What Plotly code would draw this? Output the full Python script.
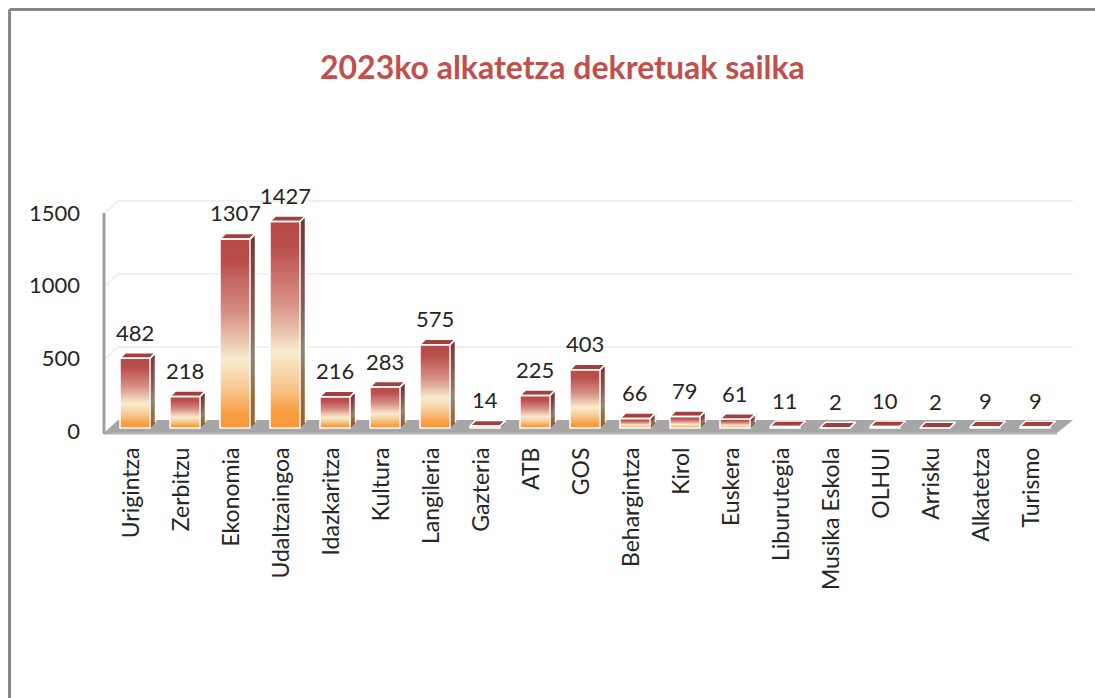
import plotly.graph_objects as go

categories = ["Urigintza", "Zerbitzu", "Ekonomia", "Udaltzaingoa", "Idazkaritza", "Kultura", "Langileria",
              "Gazteria", "ATB", "GOS", "Behargintza", "Kirol", "Euskera", "Liburutegia", "Musika Eskola",
              "OLHUI", "Arrisku", "Alkatetza", "Turismo"]
values = [482, 218, 1307, 1427, 216, 283, 575, 14, 225, 403, 66, 79, 61, 11, 2, 10, 2, 9, 9]
title_text = "2023ko alkatetza dekretuak sailka"
y_ticks = [0, 500, 1000, 1500]

FONT = "Lato"
W, H = 1095, 698
L, R, T, B = 104, 1073, 190, 440
BASE_PX, S = 428, 0.1447
HALF = 0.3
DX, DY = 5.5 / 50, 5.5 / S
N = 70

FRONT = [(0, (0xB8, 0x4A, 0x47)), (.12, (0xBA, 0x4E, 0x4B)), (.40, (0xD8, 0x92, 0x86)), (.64, (0xFA, 0xEC, 0xCE)),
         (.80, (0xF6, 0xC6, 0x8E)), (.93, (0xFA, 0x9C, 0x3E)), (1, (0xFA, 0x98, 0x3A))]
SIDE = [(0, (0x72, 0x2C, 0x2A)), (.40, (0x86, 0x54, 0x4E)), (.64, (0x88, 0x82, 0x6E)),
        (.85, (0x98, 0x62, 0x30)), (1, (0xA0, 0x5C, 0x26))]


def ramp(stops, t):
    for (a, ca), (b, cb) in zip(stops, stops[1:]):
        if t <= b:
            f = (t - a) / (b - a)
            return "rgb(%d,%d,%d)" % tuple(round(p + (q - p) * f) for p, q in zip(ca, cb))
    return "rgb(%d,%d,%d)" % stops[-1][1]


def px(x):
    return (x - L) / (R - L)


def py(y):
    return (B - y) / (B - T)


xs = list(range(len(categories)))
fig = go.Figure()

# gradient front faces: each bar is a stack of equal slices of its value
for k in range(N):
    fig.add_trace(go.Bar(x=xs, y=[v / N for v in values], width=2 * HALF,
                         marker=dict(color=ramp(FRONT, 1 - (k + .5) / N), line=dict(width=0)),
                         hoverinfo="skip", showlegend=False))

# side faces
for k in range(N):
    sx, sy = [], []
    for x, v in zip(xs, values):
        lo, hi = v * k / N, v * (k + 1) / N
        r = x + HALF
        sx += [r, r, r + DX, r + DX, r, None]
        sy += [lo, hi, hi + DY, lo + DY, lo, None]
    fig.add_trace(go.Scatter(x=sx, y=sy, mode="lines", fill="toself", line=dict(width=0.5, color=ramp(SIDE, 1 - (k + .5) / N)),
                             fillcolor=ramp(SIDE, 1 - (k + .5) / N), hoverinfo="skip", showlegend=False))

# top faces and white rims
tx, ty, ox, oy = [], [], [], []
for x, v in zip(xs, values):
    a, b = x - HALF, x + HALF
    tx += [a, b, b + DX, a + DX, a, None]
    ty += [v, v, v + DY, v + DY, v, None]
    ox += [a, a, b, b, a, None, b, b + DX, b + DX, None]
    oy += [v, 0, 0, v, v, None, v, v + DY, DY, None]
fig.add_trace(go.Scatter(x=tx, y=ty, mode="lines", fill="toself", fillcolor="#A33F3C",
                         line=dict(color="white", width=1.5), hoverinfo="skip", showlegend=False))
fig.add_trace(go.Scatter(x=ox, y=oy, mode="lines", line=dict(color="white", width=1.5),
                         hoverinfo="skip", showlegend=False))

# invisible trace that brings in the tick-label axis
fig.add_trace(go.Scatter(x=[0], y=[0], yaxis="y2", mode="markers", marker=dict(opacity=0),
                         hoverinfo="skip", showlegend=False))

annotations = [dict(x=x, y=v, text=str(v), showarrow=False, yshift=26, yanchor="middle", xanchor="center",
                    font=dict(family=FONT, size=22, color="#262626")) for x, v in zip(xs, values)]
annotations.append(dict(xref="paper", yref="paper", x=px(562), y=py(66), text="<b>%s</b>" % title_text,
                        showarrow=False, xanchor="center", yanchor="middle",
                        font=dict(family=FONT, size=32, color="#C0504D")))

shapes = []


def line(x0, y0, x1, y1, color, width):
    shapes.append(dict(type="line", xref="paper", yref="paper", x0=px(x0), y0=py(y0), x1=px(x1), y1=py(y1),
                       line=dict(color=color, width=width), layer="below"))


# chart frame
line(9.5, 9.5, 9.5, 698, "#868686", 3)
line(9.5, 9.5, 1095, 9.5, "#868686", 3)
# back wall grid lines
for y in (201, 274, 347):
    line(118, y, 1073, y, "#F0F0F0", 2)
    line(104, y + 13, 118, y, "#F0F0F0", 2)
# floor
path = "M %f %f L %f %f L %f %f L %f %f Z" % (px(104), py(433), px(118), py(420), px(1073), py(420), px(1057), py(433))
shapes.append(dict(type="path", xref="paper", yref="paper", path=path, fillcolor="#A6A6A6", line=dict(width=0), layer="below"))
line(104, 433.5, 1057, 433.5, "#B0B0B0", 2)
line(104, 213, 104, 434, "#A0A0A0", 3)

y_bottom = (BASE_PX - B) / S
y_top = (BASE_PX - T) / S
S2 = 0.14533
fig.update_layout(
    width=W, height=H, autosize=False,
    margin=dict(l=L, r=W - R, t=T, b=H - B, pad=0),
    paper_bgcolor="white", plot_bgcolor="rgba(0,0,0,0)",
    barmode="stack", bargap=0.4, showlegend=False,
    font=dict(family=FONT, color="#262626"),
    annotations=annotations, shapes=shapes,
    xaxis=dict(range=[(L - 135) / 50, (R - 135) / 50], tickmode="array", tickvals=xs, ticktext=categories,
               tickangle=-90, showgrid=False, zeroline=False, showline=False, ticks="",
               ticklabelstandoff=2, ticklabelshift=-3, tickfont=dict(family=FONT, size=23, color="#262626")),
    yaxis=dict(range=[y_bottom, y_top], visible=False),
    yaxis2=dict(range=[(431 - B) / S2, (431 - T) / S2], overlaying="y", side="left", anchor="x",
                tickmode="array", tickvals=y_ticks, ticktext=[str(t) for t in y_ticks],
                showgrid=False, zeroline=False, showline=False, ticks="", ticklabelstandoff=23,
                tickfont=dict(family=FONT, size=22, color="#262626")),
)
fig.write_html("out.html", config=dict(displayModeBar=False),
               post_script="document.body.style.margin='0';document.documentElement.style.overflow='hidden';")
